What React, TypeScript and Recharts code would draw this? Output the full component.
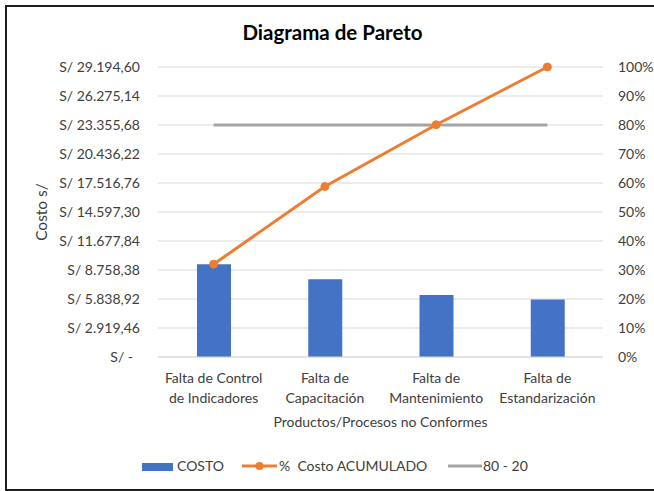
import {
  ComposedChart,
  CartesianGrid,
  XAxis,
  YAxis,
  Bar,
  Line,
  Label,
} from "recharts";

const categories = [
  ["Falta de Control", "de Indicadores"],
  ["Falta de", "Capacitación"],
  ["Falta de", "Mantenimiento"],
  ["Falta de", "Estandarización"],
];
const costo = [9340, 7820, 6240, 5794.6];
const acumulado = [32.0, 58.8, 80.1, 100];
const linea8020 = [80, 80, 80, 80];
const costTicks = [
  0, 2919.46, 5838.92, 8758.38, 11677.84, 14597.3, 17516.76, 20436.22,
  23355.68, 26275.14, 29194.6,
];
const pctTicks = [0, 10, 20, 30, 40, 50, 60, 70, 80, 90, 100];

const data = categories.map((c, i) => ({
  name: c.join(" "),
  costo: costo[i],
  acumulado: acumulado[i],
  pareto: linea8020[i],
}));

const TEXT = "#404040";

const formatSoles = (v: number) => {
  if (v === 0) return "S/ -";
  const [ent, dec] = v.toFixed(2).split(".");
  return "S/ " + ent.replace(/\B(?=(\d{3})+(?!\d))/g, ".") + "," + dec;
};

const LeftTick = ({ x, y, payload }: any) => (
  <text
    x={payload.value === 0 ? x - 7 : x}
    y={y}
    dy="0.355em"
    textAnchor="end"
    fill={TEXT}
    fontSize={14}
  >
    {formatSoles(payload.value)}
  </text>
);

// y here is already axis + tickSize + tickMargin (8px below the axis)
const CatTick = ({ x, y, payload, index }: any) => {
  const lines = categories[index] || [payload.value];
  return (
    <text x={x} textAnchor="middle" fill={TEXT} fontSize={14}>
      <tspan x={x} y={y + 18}>
        {lines[0]}
      </tspan>
      <tspan x={x} y={y + 37.5}>
        {lines[1]}
      </tspan>
    </text>
  );
};

export default function App() {
  return (
    <div
      style={{
        position: "absolute",
        left: 5,
        top: 5,
        width: 647,
        height: 482,
        border: "2px solid #1e1e1e",
        borderRight: "none",
        background: "#fff",
        overflow: "hidden",
        fontFamily: "Lato, 'Open Sans', sans-serif",
      }}
    >
      <div
        style={{
          position: "absolute",
          left: 2,
          top: 15,
          width: 647,
          textAlign: "center",
          fontSize: 20.5,
          lineHeight: "20.5px",
          fontWeight: 700,
          color: "#000",
          whiteSpace: "pre",
        }}
      >
        Diagrama de Pareto
      </div>
      <ComposedChart
        width={647}
        height={482}
        data={data}
        margin={{ top: 60, right: 0, left: 0, bottom: 52 }}
      >
        <CartesianGrid stroke="#d9d9d9" vertical={false} yAxisId="left" />
        <XAxis
          dataKey="name"
          height={80}
          tick={<CatTick />}
          tickLine={false}
          axisLine={{ stroke: "#d9d9d9" }}
          interval={0}
        >
          <Label
            content={({ viewBox }: any) => (
              <text
                x={viewBox.x + viewBox.width / 2}
                y={420}
                textAnchor="middle"
                fill={TEXT}
                fontSize={14}
              >
                Productos/Procesos no Conformes
              </text>
            )}
          />
        </XAxis>
        <YAxis
          yAxisId="left"
          width={151}
          domain={[0, 29194.6]}
          ticks={costTicks}
          tick={<LeftTick />}
          tickLine={false}
          axisLine={false}
          tickSize={0}
          tickMargin={18}
          interval={0}
        >
          <Label
            content={({ viewBox }: any) => (
              <text
                x={34}
                y={viewBox.y + viewBox.height / 2}
                transform={`rotate(-90, 34, ${viewBox.y + viewBox.height / 2})`}
                textAnchor="middle"
                dy="0.355em"
                fill={TEXT}
                fontSize={15.5}
              >
                Costo s/
              </text>
            )}
          />
        </YAxis>
        <YAxis
          yAxisId="right"
          orientation="right"
          width={51}
          domain={[0, 100]}
          ticks={pctTicks}
          tickFormatter={(v: number) => `${v}%`}
          tick={{ fill: TEXT, fontSize: 14, textAnchor: "start" }}
          tickLine={false}
          axisLine={false}
          tickSize={0}
          tickMargin={15}
          interval={0}
        />
        <Bar
          yAxisId="left"
          dataKey="costo"
          fill="#4472C4"
          barSize={34}
          isAnimationActive={false}
        />
        <Line
          yAxisId="right"
          dataKey="pareto"
          stroke="#A5A5A5"
          strokeWidth={3}
          dot={false}
          isAnimationActive={false}
        />
        <Line
          yAxisId="right"
          dataKey="acumulado"
          stroke="#ED7D31"
          strokeWidth={3}
          dot={{ r: 4, fill: "#ED7D31", stroke: "#ED7D31", strokeWidth: 1 }}
          isAnimationActive={false}
        />
      </ComposedChart>
      <svg
        width={647}
        height={40}
        style={{ position: "absolute", left: 0, top: 440 }}
      >
        <rect x={135} y={16} width={31} height={8} fill="#4472C4" />
        <text x={170} y={24} fill={TEXT} fontSize={14}>
          COSTO
        </text>
        <line x1={235} x2={270} y1={19} y2={19} stroke="#ED7D31" strokeWidth={3} />
        <circle cx={252.5} cy={19} r={4} fill="#ED7D31" />
        <text x={272} y={24} fill={TEXT} fontSize={14} style={{ whiteSpace: "pre" }}>
          %  Costo ACUMULADO
        </text>
        <line x1={441} x2={475} y1={19} y2={19} stroke="#A5A5A5" strokeWidth={3} />
        <text x={476} y={24} fill={TEXT} fontSize={14}>
          80 - 20
        </text>
      </svg>
    </div>
  );
}
